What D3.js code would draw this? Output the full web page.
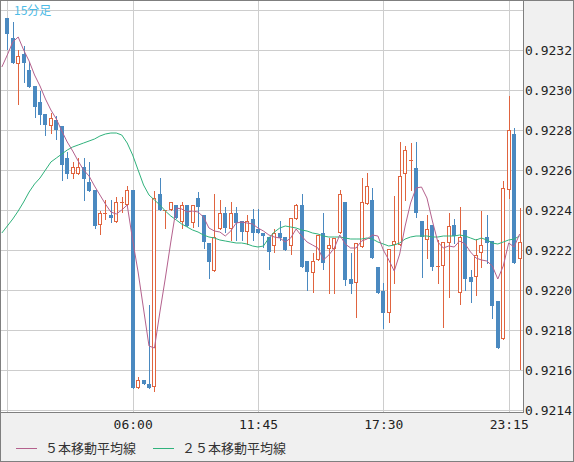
<!DOCTYPE html>
<html>
<head>
<meta charset="utf-8">
<script src="https://cdn.jsdelivr.net/npm/d3@7"></script>
<style>
body{margin:0;background:#fff;}
svg{display:block;}
.axis text{font-family:"DejaVu Sans Mono",monospace;font-size:13px;fill:#222;}
.axis path,.axis line{display:none;}
.legend text{font-family:"Noto Sans CJK JP",sans-serif;font-size:13px;fill:#333;}
.title{font-family:"Noto Sans CJK JP",sans-serif;font-size:12px;fill:#4dbbe6;}
</style>
</head>
<body>
<div id="chart"></div>
<script>
// 15 minute candles, index 0 = 00:15
var opens=[0.92336,0.92326,0.92313,0.92318,0.92310,0.92302,0.92294,0.92288,0.92282,0.92285,
0.92282,0.92266,0.92258,0.92258,0.922615,0.92254,0.92250,0.922325,0.92238,0.922375,
0.92234,0.922435,0.922425,0.92250,0.92151,0.92155,0.92153,0.921515,0.92248,0.922395,
0.92240,0.922425,0.92234,0.922425,0.922335,0.92246,0.922375,0.922235,0.922095,0.922305,
0.922385,0.922305,0.922385,0.922345,0.92229,0.922355,0.922305,0.922285,0.922265,0.92222,
0.922285,0.922265,0.92222,0.922355,0.922425,0.922145,0.922085,0.92215,0.922285,0.922205,
0.922205,0.922285,0.92244,0.922055,0.922035,0.922215,0.92243,0.92245,0.922115,0.921995,
0.921885,0.922225,0.922225,0.92258,0.922645,0.92261,0.922345,0.92225,0.922325,0.922115,
0.92212,0.922235,0.922325,0.921985,0.92230,0.922065,0.922065,0.922185,0.922265,0.922245,
0.921945,0.921755,0.92250,0.92278,0.922155];
var highs=[0.92336,0.92334,0.92320,0.92322,0.92314,0.92302,0.922995,0.92288,0.922885,0.92287,
0.92282,0.92269,0.92264,0.92266,0.92266,0.92264,0.92250,0.922395,0.92245,0.92245,
0.922465,0.922465,0.92252,0.92250,0.921565,0.92155,0.921925,0.922495,0.92256,0.92240,
0.92244,0.922425,0.92244,0.922425,0.922425,0.92249,0.922375,0.922235,0.92248,0.92245,
0.922415,0.92244,0.922415,0.922345,0.922375,0.922405,0.922405,0.922285,0.922265,0.922305,
0.922345,0.922265,0.92236,0.92243,0.92248,0.922145,0.922185,0.922275,0.922385,0.92226,
0.92226,0.92250,0.92244,0.922185,0.922235,0.92256,0.922585,0.92251,0.922115,0.922035,
0.922205,0.92247,0.92274,0.92272,0.922735,0.92274,0.922345,0.922375,0.922325,0.92225,
0.92224,0.922385,0.922355,0.922415,0.92230,0.92210,0.922255,0.922395,0.922375,0.922245,
0.921945,0.922545,0.92297,0.92281,0.92241];
var lows=[0.923205,0.923135,0.92293,0.92304,0.923015,0.922865,0.92283,0.922775,0.922785,0.922755,
0.92255,0.92256,0.92256,0.92258,0.92245,0.922495,0.92231,0.92228,0.922355,0.92234,
0.92234,0.92239,0.922425,0.92151,0.92151,0.92153,0.92151,0.921495,0.92240,0.92231,
0.92240,0.92236,0.92231,0.92232,0.922315,0.92232,0.92221,0.92206,0.922095,0.922305,
0.92229,0.92225,0.92225,0.92225,0.92223,0.92225,0.922285,0.922215,0.922105,0.92219,
0.92225,0.92220,0.92218,0.922355,0.922115,0.92200,0.92199,0.92215,0.922105,0.921985,
0.921985,0.922285,0.922025,0.921985,0.921865,0.922215,0.92243,0.92216,0.921985,0.92181,
0.92184,0.922035,0.922225,0.92245,0.92250,0.922365,0.922065,0.92216,0.92210,0.922035,
0.921815,0.921965,0.922235,0.92193,0.92200,0.92194,0.921975,0.922115,0.922135,0.92186,
0.92171,0.921755,0.92246,0.922135,0.921605];
var closes=[0.92328,0.923135,0.92317,0.923135,0.923015,0.922915,0.922875,0.922825,0.92286,0.92280,
0.922625,0.92258,0.922615,0.922615,0.922555,0.922495,0.92232,0.922385,0.922385,0.92236,
0.92244,0.92244,0.92250,0.92151,0.92155,0.92153,0.92151,0.92246,0.92240,0.92240,
0.92244,0.92236,0.922425,0.92232,0.922425,0.922415,0.92224,0.92214,0.922265,0.922385,
0.92231,0.922385,0.922335,0.92229,0.922345,0.922285,0.922285,0.92227,0.92219,0.922285,
0.92226,0.92220,0.92236,0.922425,0.922115,0.92209,0.922145,0.922275,0.922135,0.922225,
0.92226,0.92248,0.92205,0.92203,0.922235,0.92244,0.92252,0.92216,0.921985,0.921885,
0.922205,0.922245,0.92257,0.92270,0.92265,0.922385,0.922265,0.922305,0.922115,0.92212,
0.92224,0.92232,0.92227,0.922265,0.922055,0.92204,0.922175,0.922225,0.922235,0.92192,
0.92171,0.92251,0.92280,0.922135,0.92224];

// moving averages, first value belongs to candle index -1
var maStart=-1;
var ma5=[0.923115,0.923175,0.92324,0.923265,0.92320,0.923145,0.923075,0.92302,0.922955,0.92290,0.922855,
0.922795,0.92274,0.922695,0.922645,0.92260,0.92257,0.92252,0.922475,0.92243,0.92239,
0.92238,0.92240,0.922425,0.92225,0.92209,0.921905,0.92172,0.92171,0.92189,0.92206,
0.92224,0.92241,0.922405,0.92239,0.922395,0.92239,0.922365,0.92231,0.922295,0.92229,
0.92227,0.922295,0.922335,0.92234,0.922335,0.92233,0.92231,0.922295,0.922275,0.922265,
0.92226,0.92224,0.92226,0.922305,0.92227,0.92224,0.922225,0.92221,0.92215,0.922175,
0.92221,0.922275,0.92223,0.92221,0.92221,0.922245,0.922255,0.922275,0.92227,0.92220,
0.92215,0.922095,0.92218,0.92232,0.922435,0.92251,0.922515,0.92246,0.922345,0.92224,
0.92221,0.92222,0.922215,0.922245,0.92223,0.92219,0.92216,0.92215,0.922145,0.92212,
0.922055,0.92212,0.922235,0.922215,0.92228];
var ma25=[0.922285,0.92232,0.922355,0.922395,0.92244,0.92249,0.92253,0.92256,0.92260,0.92264,0.92266,
0.92268,0.92270,0.922715,0.922725,0.922735,0.922745,0.922755,0.92277,0.92278,0.922785,
0.922785,0.922775,0.922735,0.922675,0.92260,0.922525,0.922475,0.92245,0.922425,0.922395,
0.92237,0.92235,0.92233,0.922315,0.92230,0.92229,0.922275,0.922265,0.92226,0.92225,
0.922245,0.92224,0.922235,0.922235,0.92223,0.92222,0.922215,0.92222,0.92226,0.92229,
0.92231,0.92232,0.922315,0.92231,0.92230,0.922295,0.922285,0.92228,0.92227,0.922265,
0.922265,0.922265,0.92226,0.922255,0.922255,0.922255,0.92226,0.922255,0.92224,0.92223,
0.92222,0.922225,0.922235,0.922255,0.922265,0.92227,0.92227,0.92227,0.922265,0.922265,
0.92227,0.92227,0.92227,0.922275,0.92227,0.92226,0.92225,0.92226,0.92225,0.922235,
0.92223,0.92224,0.92225,0.922255,0.92227];

var gridPrices=[0.9214,0.9216,0.9218,0.9220,0.9222,0.9224,0.9226,0.9228,0.9230,0.9232,0.9234];
var priceLabels=[0.9214,0.9216,0.9218,0.9220,0.9222,0.9224,0.9226,0.9228,0.9230,0.9232];
var timeIdx=[0,23,46,69,92];
var timeLabels=["00:15","06:00","11:45","17:30","23:15"];
var legendNames=["５本移動平均線","２５本移動平均線"];

var W=574,H=462;
var plotR=523,plotB=412;
var blue="#4a89c0",orange="#e0643f",purple="#b4618d",green="#30b27c",gridc="#cdcdcd",frame="#7f7f7f";

var svg=d3.select("#chart").append("svg").attr("width",W).attr("height",H);
svg.append("rect").attr("width",W).attr("height",H).attr("fill","#f0f0f0");
svg.append("rect").attr("x",1).attr("y",1).attr("width",plotR-1).attr("height",plotB-1).attr("fill","#fff");

var x=d3.scaleLinear().domain([0,92]).range([7.3,508.7]);
var y=d3.scaleLinear().domain([0.9214,0.9232]).range([410,50]);

svg.append("clipPath").attr("id","clip").append("rect")
	.attr("x",1).attr("y",1).attr("width",plotR-1).attr("height",plotB-1);
var plot=svg.append("g").attr("clip-path","url(#clip)");

// grid
plot.selectAll("line.hg").data(gridPrices).enter().append("line")
	.attr("x1",0).attr("x2",plotR)
	.attr("y1",function(d){return Math.round(y(d))+0.5;})
	.attr("y2",function(d){return Math.round(y(d))+0.5;})
	.attr("stroke",gridc).attr("shape-rendering","crispEdges");
plot.selectAll("line.vg").data(timeIdx).enter().append("line")
	.attr("y1",0).attr("y2",plotB)
	.attr("x1",function(d){return Math.round(x(d))+0.5;})
	.attr("x2",function(d){return Math.round(x(d))+0.5;})
	.attr("stroke",gridc).attr("shape-rendering","crispEdges");

// candles
var data=opens.map(function(o,i){return {i:i,o:o,h:highs[i],l:lows[i],c:closes[i]};});
var cg=plot.selectAll("g.candle").data(data).enter().append("g").attr("class","candle")
	.attr("shape-rendering","crispEdges");
cg.append("line")
	.attr("x1",function(d){return Math.round(x(d.i))+0.5;})
	.attr("x2",function(d){return Math.round(x(d.i))+0.5;})
	.attr("y1",function(d){return Math.round(y(d.h));})
	.attr("y2",function(d){return Math.round(y(d.l))+1;})
	.attr("stroke",function(d){return d.c>=d.o?orange:blue;});
cg.each(function(d){
	var g=d3.select(this);
	var px=Math.round(x(d.i));
	var yo=Math.round(y(d.o)),yc=Math.round(y(d.c));
	if(d.c<d.o){
		g.append("rect").attr("x",px-2).attr("y",yo).attr("width",4)
			.attr("height",Math.max(1,yc-yo)).attr("fill",blue);
	}else if(yo-yc<2){
		g.append("line").attr("x1",px-2).attr("x2",px+2)
			.attr("y1",yc+0.5).attr("y2",yc+0.5).attr("stroke",orange);
	}else{
		g.append("rect").attr("x",px-1.5).attr("y",yc+0.5).attr("width",3)
			.attr("height",yo-yc-1).attr("fill","#fff").attr("stroke",orange);
	}
});

// moving averages
var line=d3.line().x(function(d){return x(d.i);}).y(function(d){return y(d.v);});
function maData(arr){return arr.map(function(v,k){return {i:k+maStart,v:v};});}
plot.append("path").datum(maData(ma25)).attr("d",line)
	.attr("fill","none").attr("stroke",green).attr("stroke-width",1);
plot.append("path").datum(maData(ma5)).attr("d",line)
	.attr("fill","none").attr("stroke",purple).attr("stroke-width",1);

svg.append("text").attr("class","title").attr("x",14).attr("y",15).text("15分足");

// frame
svg.append("line").attr("x1",0).attr("x2",plotR+0.5).attr("y1",plotB+0.5).attr("y2",plotB+0.5)
	.attr("stroke",frame).attr("shape-rendering","crispEdges");
svg.append("line").attr("x1",plotR+0.5).attr("x2",plotR+0.5).attr("y1",0).attr("y2",plotB+0.5)
	.attr("stroke",frame).attr("shape-rendering","crispEdges");
svg.append("rect").attr("x",0.5).attr("y",0.5).attr("width",W-1).attr("height",H-1)
	.attr("fill","none").attr("stroke",frame).attr("shape-rendering","crispEdges");

// axes
var yAxis=d3.axisRight(y).tickValues(priceLabels).tickFormat(d3.format(".4f")).tickSize(0).tickPadding(2);
svg.append("g").attr("class","axis").attr("transform","translate("+plotR+",0)").call(yAxis);

var xAxis=d3.axisBottom(x).tickValues(timeIdx.slice(1))
	.tickFormat(function(d){return timeLabels[timeIdx.indexOf(d)];}).tickSize(0).tickPadding(8);
svg.append("g").attr("class","axis").attr("transform","translate(0,"+plotB+")").call(xAxis);

// legend
var lg=svg.append("g").attr("class","legend");
var legX=[16,153],legC=[purple,green];
legendNames.forEach(function(n,k){
	lg.append("line").attr("x1",legX[k]).attr("x2",legX[k]+21).attr("y1",448.5).attr("y2",448.5)
		.attr("stroke",legC[k]).attr("shape-rendering","crispEdges");
	lg.append("text").attr("x",legX[k]+29).attr("y",453).text(n);
});
</script>
</body>
</html>
